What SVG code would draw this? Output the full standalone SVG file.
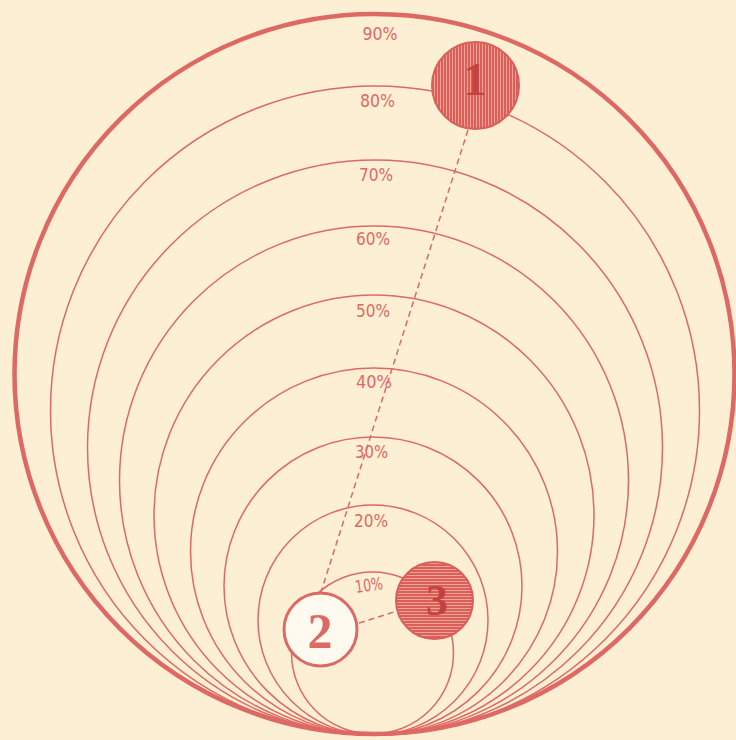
<svg xmlns="http://www.w3.org/2000/svg" width="736" height="740" viewBox="0 0 736 740">
<defs>
<style>
.ring{fill:none;stroke:#de6964;stroke-width:1.5}
.outer{fill:none;stroke:#de6964;stroke-width:4.5}
.lbl{font-family:"DejaVu Sans",sans-serif;font-size:17px;fill:#de6964;text-anchor:middle}
.dig{font-family:"Liberation Serif",serif;font-weight:bold;text-anchor:middle}
.dash{stroke:#de6964;stroke-width:1.5;stroke-dasharray:6 4;fill:none}
</style>
<pattern id="vh" width="3" height="3" patternUnits="userSpaceOnUse">
<rect width="3" height="3" fill="#da5e5a"/>
<rect x="2" width="1" height="3" fill="#eea393"/>
</pattern>
<pattern id="hh" width="3" height="3" patternUnits="userSpaceOnUse">
<rect width="3" height="3" fill="#da5e5a"/>
<rect y="2" width="3" height="1" fill="#eea393"/>
</pattern>
</defs>
<rect width="736" height="740" fill="#fcefd3"/>
<g id="rings">
<circle id="r90" class="outer" cx="374.5" cy="374" r="360"/>
<circle id="r80" class="ring" cx="375" cy="410.5" r="324.5"/>
<circle id="r70" class="ring" cx="375" cy="447.5" r="287.5"/>
<circle id="r60" class="ring" cx="374" cy="480.5" r="254.5"/>
<circle id="r50" class="ring" cx="374" cy="515" r="220"/>
<circle id="r40" class="ring" cx="374" cy="551.5" r="183.5"/>
<circle id="r30" class="ring" cx="373" cy="586" r="149"/>
<circle id="r20" class="ring" cx="373" cy="620" r="115"/>
<circle id="r10" class="ring" cx="372.5" cy="653" r="81"/>
</g>
<g id="labels">
<text class="lbl" x="380" y="40" textLength="35" lengthAdjust="spacingAndGlyphs">90%</text>
<text class="lbl" x="377.5" y="107" textLength="35" lengthAdjust="spacingAndGlyphs">80%</text>
<text class="lbl" x="376" y="181" textLength="34" lengthAdjust="spacingAndGlyphs">70%</text>
<text class="lbl" x="373" y="245" textLength="34" lengthAdjust="spacingAndGlyphs">60%</text>
<text class="lbl" x="373" y="317" textLength="34" lengthAdjust="spacingAndGlyphs">50%</text>
<text class="lbl" x="374" y="388" textLength="36" lengthAdjust="spacingAndGlyphs">40%</text>
<text class="lbl" x="371.5" y="458" textLength="33" lengthAdjust="spacingAndGlyphs">30%</text>
<text class="lbl" x="371" y="527" textLength="34" lengthAdjust="spacingAndGlyphs">20%</text>
<text class="lbl" x="369" y="591" textLength="28" lengthAdjust="spacingAndGlyphs" transform="rotate(-8 369 585)">10%</text>
</g>
<g id="connectors">
<line class="dash" x1="468" y1="130" x2="321" y2="592"/>
<line class="dash" x1="359" y1="623" x2="397" y2="611"/>
</g>
<g id="node1">
<circle cx="475.5" cy="85.5" r="43.5" fill="url(#vh)" stroke="#da5e5a" stroke-width="2"/>
<text class="dig" x="475" y="95" font-size="46" fill="#c4433f">1</text>
</g>
<g id="node2">
<circle cx="320.5" cy="629.5" r="36.5" fill="#fffaf0" stroke="#de6964" stroke-width="3"/>
<text class="dig" x="320" y="648" font-size="50" fill="#de6964">2</text>
</g>
<g id="node3">
<circle cx="434.5" cy="600.5" r="38.5" fill="url(#hh)" stroke="#da5e5a" stroke-width="2"/>
<text class="dig" x="437" y="615" font-size="44" fill="#c4433f">3</text>
</g>
</svg>
